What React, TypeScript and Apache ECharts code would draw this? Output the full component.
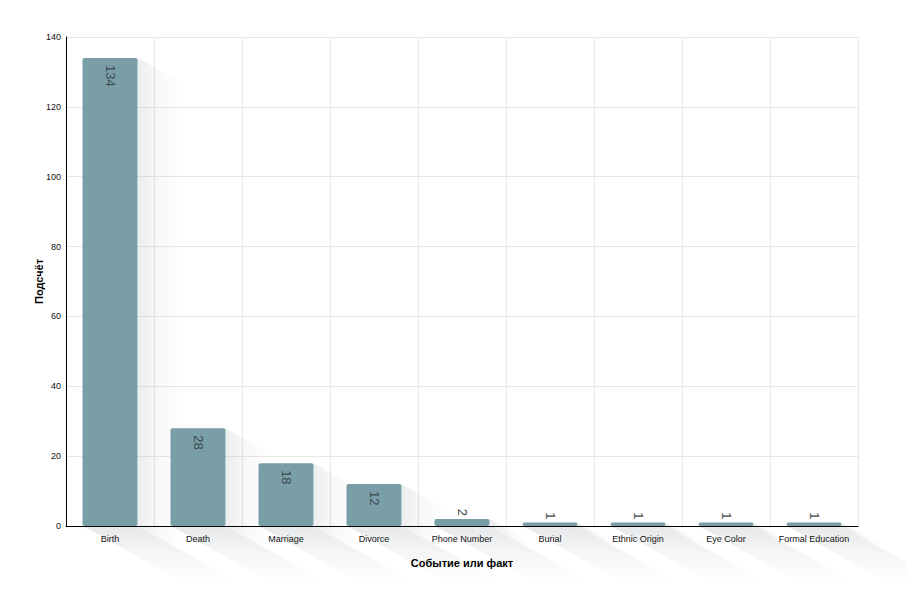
import React, { useEffect, useRef } from "react";
import * as echarts from "echarts";

const categories = [
  "Birth",
  "Death",
  "Marriage",
  "Divorce",
  "Phone Number",
  "Burial",
  "Ethnic Origin",
  "Eye Color",
  "Formal Education",
];
const counts = [134, 28, 18, 12, 2, 1, 1, 1, 1];
const xAxisName = "Событие или факт";
const yAxisName = "Подсчёт";

const FONT = "'Liberation Sans', Arial, sans-serif";
const BAR_COLOR = "#799ea8";
const BAR_RATIO = 0.625;

export default function App() {
  const ref = useRef<HTMLDivElement>(null);

  useEffect(() => {
    if (!ref.current) return;
    const chart = echarts.init(ref.current, null, { renderer: "svg" });

    const shadowRender = (params: any, api: any) => {
      const idx = api.value(0);
      const val = api.value(1);
      const top = api.coord([idx, val]);
      const base = api.coord([idx, 0]);
      const w = api.size([1, 0])[0] * BAR_RATIO;
      const x1 = top[0] - w / 2;
      const x2 = top[0] + w / 2;
      const y1 = top[1];
      const y2 = base[1];
      const dx = 100;
      const dy = 56;
      return {
        type: "group",
        children: [
          {
            type: "polygon",
            shape: {
              points: [
                [x2, y1],
                [x2 + dx, y1 + dy],
                [x2 + dx, y2 + dy],
                [x2, y2],
              ],
            },
            style: {
              fill: {
                type: "linear",
                x: x2,
                y: 0,
                x2: x2 + 45,
                y2: 0,
                global: true,
                colorStops: [
                  { offset: 0, color: "rgba(40,50,60,0.09)" },
                  { offset: 0.5, color: "rgba(40,50,60,0.03)" },
                  { offset: 1, color: "rgba(40,50,60,0)" },
                ],
              },
            },
          },
          {
            type: "polygon",
            shape: {
              points: [
                [x1, y2],
                [x2, y2],
                [x2 + dx, y2 + dy],
                [x1 + dx, y2 + dy],
              ],
            },
            style: {
              fill: {
                type: "linear",
                x: 0,
                y: y2,
                x2: 0,
                y2: y2 + dy,
                global: true,
                colorStops: [
                  { offset: 0, color: "rgba(40,50,60,0.11)" },
                  { offset: 0.5, color: "rgba(40,50,60,0.045)" },
                  { offset: 1, color: "rgba(40,50,60,0)" },
                ],
              },
            },
          },
        ],
      };
    };

    chart.setOption({
      animation: false,
      textStyle: { fontFamily: FONT },
      grid: { left: 58, right: 49, top: 29, bottom: 67, containLabel: false },
      xAxis: {
        type: "category",
        data: categories,
        name: xAxisName,
        nameLocation: "middle",
        nameGap: 31,
        nameTextStyle: { fontSize: 11, fontWeight: "bold", color: "#000", fontFamily: FONT },
        axisLine: { show: true, lineStyle: { color: "#000", width: 1 } },
        axisTick: { show: false },
        axisLabel: { color: "#111", fontSize: 9, margin: 8, interval: 0, fontFamily: FONT },
        splitLine: { show: true, lineStyle: { color: "#e8e8e8", width: 1 } },
      },
      yAxis: {
        type: "value",
        min: 0,
        max: 140,
        interval: 20,
        name: yAxisName,
        nameLocation: "middle",
        nameGap: 22,
        nameMoveOverlap: false,
        nameTextStyle: { fontSize: 11, fontWeight: "bold", color: "#000", fontFamily: FONT },
        axisLine: { show: true, lineStyle: { color: "#000", width: 1 } },
        axisTick: { show: false },
        axisLabel: { color: "#111", fontSize: 9, margin: 5, fontFamily: FONT },
        splitLine: { show: true, lineStyle: { color: "#e8e8e8", width: 1 } },
      },
      series: [
        {
          type: "custom",
          renderItem: shadowRender,
          clip: false,
          silent: true,
          z: 1,
          data: counts.map((v, i) => [i, v]),
          encode: { x: 0, y: 1 },
        },
        {
          type: "bar",
          z: 3,
          barWidth: BAR_RATIO * 100 + "%",
          itemStyle: { color: BAR_COLOR, borderRadius: 2 },
          data: counts.map((v) => ({
            value: v,
            label:
              v >= 5
                ? {
                    show: true,
                    position: "insideTop",
                    rotate: -90,
                    align: "left",
                    verticalAlign: "middle",
                    distance: 7,
                    color: "#3f4a4f",
                    fontSize: 13,
                    fontFamily: FONT,
                  }
                : {
                    show: true,
                    position: "top",
                    rotate: -90,
                    align: "right",
                    verticalAlign: "middle",
                    distance: 3,
                    color: "#3f4a4f",
                    fontSize: 13,
                    fontFamily: FONT,
                  },
          })),
        },
      ],
    });

    return () => chart.dispose();
  }, []);

  return <div ref={ref} style={{ width: 899, height: 585 }} />;
}
